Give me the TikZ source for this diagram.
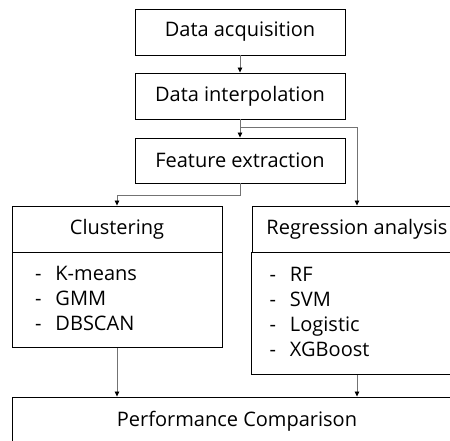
\documentclass[tikz,border=0pt]{standalone}
\usepackage{fontspec}
\setmainfont{Open Sans}
\usetikzlibrary{arrows.meta,calc}

\begin{document}
\begin{tikzpicture}[x=1pt,y=1pt,>={Triangle[length=5pt,width=4.5pt,color=black]},
    font=\fontsize{20}{25}\selectfont,
    box/.style={draw,line width=0.9pt,minimum width=210pt,inner sep=0pt},
    list/.style={box,anchor=north,align=left},
    link/.style={->,draw=black!55,line width=0.8pt}]
  \useasboundingbox (0,0) rectangle (450,-441);
  \clip (0,0) rectangle (450,-441);

  % pre-processing chain
  \node[box,minimum height=46pt] (acq) at (240,-32) {Data acquisition};
  \node[box,minimum height=46pt] (interp) at (240,-96) {Data interpolation};
  \node[box,minimum height=45pt] (feat) at (240,-160.5) {Feature extraction};

  % two model groups, header over list
  \node[box,minimum height=46pt] (cluhead) at (117,-229) {Clustering};
  \node[list,minimum height=95pt] (clubody) at (cluhead.south)
    {\begin{tabular}{@{\hspace{18pt}}l@{\hspace{14pt}}l@{\hspace{80pt}}}
      - & K-means\\ - & GMM\\ - & DBSCAN
     \end{tabular}};
  \node[box,minimum height=46pt] (reghead) at (357,-229) {Regression analysis};
  \node[list,minimum height=122pt] (regbody) at (reghead.south)
    {\begin{tabular}{@{\hspace{18pt}}l@{\hspace{14pt}}l@{\hspace{93pt}}}
      - & RF\\ - & SVM\\ - & Logistic\\ - & XGBoost
     \end{tabular}};

  \node[box,minimum width=450pt,minimum height=48pt] (perf) at (237,-421) {Performance Comparison};

  % connectors
  \draw[link] (acq) -- (interp);
  \draw[link] (interp) -- (feat);
  \coordinate (br) at ($(interp.south)+(0,-8)$);
  \draw[link] (br) -| (reghead.north);
  \draw[link] (feat.south) -- ++(0,-12) -| (cluhead.north);
  \draw[link] (clubody.south) -- (clubody.south |- perf.north);
  \draw[link] (regbody.south) -- (regbody.south |- perf.north);
\end{tikzpicture}
\end{document}
